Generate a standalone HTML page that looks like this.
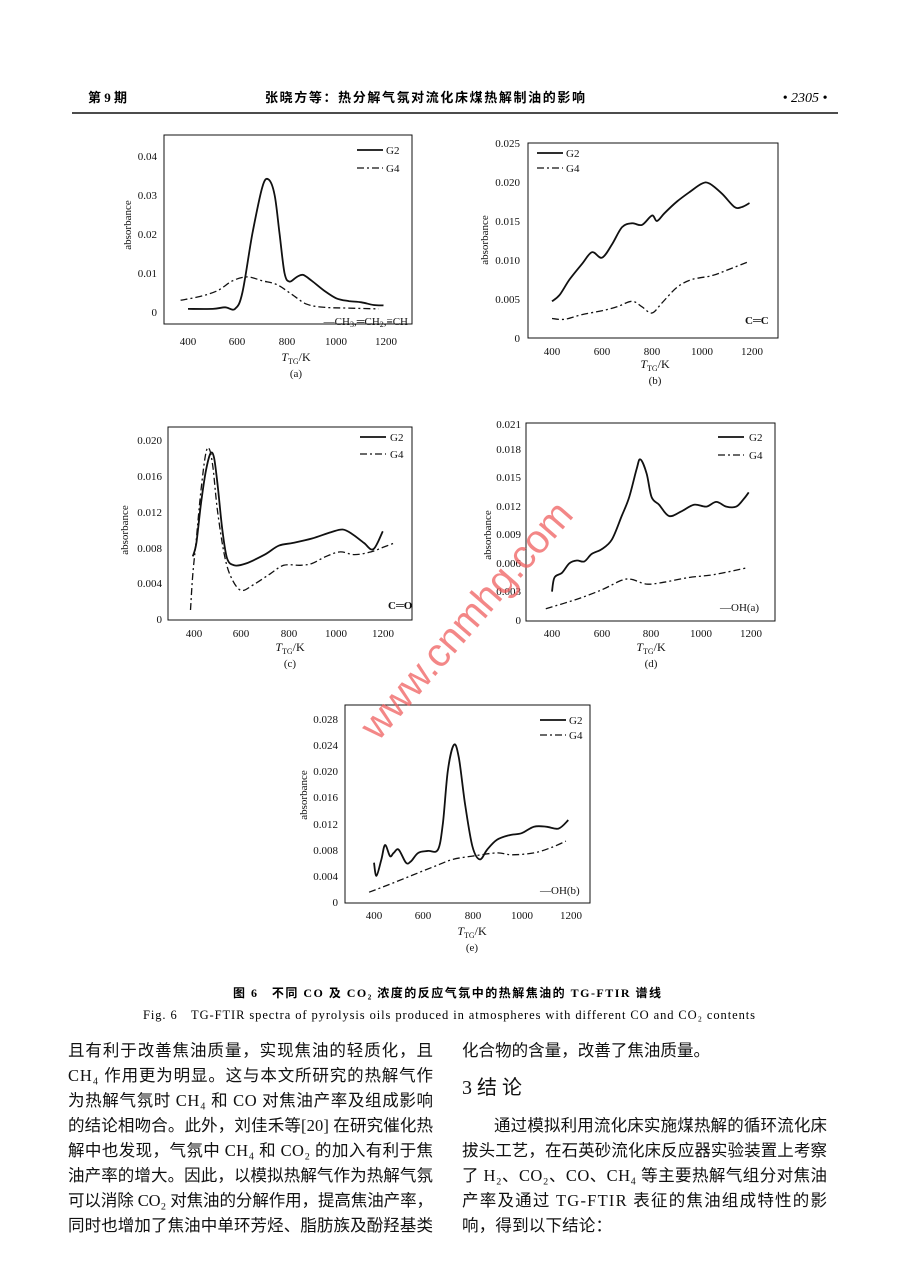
<!DOCTYPE html>
<html><head><meta charset="utf-8"><style>
html,body{margin:0;padding:0;background:#fff;}
svg{display:block;font-family:"Liberation Serif","Noto Serif CJK SC",serif;}
.t{font-size:11px;fill:#111;}
.cn{font-family:"Liberation Serif","Noto Sans CJK SC",sans-serif;}
</style></head><body>
<svg id="s" width="904" height="1262" viewBox="0 0 904 1262" xmlns="http://www.w3.org/2000/svg">
<rect width="904" height="1262" fill="#fff"/>
<text x="88" y="102" class="cn" font-size="13" font-weight="bold">第 9 期</text>
<text x="265" y="102" class="cn" font-size="13" font-weight="bold" textLength="320">张晓方等：热分解气氛对流化床煤热解制油的影响</text>
<text x="805" y="102" font-size="14" font-style="italic" text-anchor="middle">• 2305 •</text>
<line x1="72" y1="113" x2="838" y2="113" stroke="#111" stroke-width="1.5"/>

<g fill="none" stroke="#111" stroke-width="1">
<rect x="164" y="135" width="248" height="189"/>
<rect x="528" y="143" width="250" height="195"/>
<rect x="168" y="427" width="244" height="193"/>
<rect x="526" y="423" width="249" height="198"/>
<rect x="345" y="705" width="245" height="198"/>
</g>
<g id="curves"></g>

<g class="t" text-anchor="end">
<text x="157" y="160">0.04</text><text x="157" y="199">0.03</text><text x="157" y="238">0.02</text><text x="157" y="277">0.01</text><text x="157" y="316">0</text>
</g>
<g class="t" text-anchor="middle">
<text x="188" y="345">400</text><text x="237" y="345">600</text><text x="287" y="345">800</text><text x="336" y="345">1000</text><text x="386" y="345">1200</text>
<text x="296" y="361" font-size="12"><tspan font-style="italic">T</tspan><tspan font-size="8" dy="3">TG</tspan><tspan dy="-3">/K</tspan></text>
<text x="296" y="377">(a)</text>
</g>
<text class="t" transform="translate(131,225) rotate(-90)" text-anchor="middle">absorbance</text>
<text class="t" x="386" y="154">G2</text><text class="t" x="386" y="172">G4</text>
<text class="t" x="408" y="325" text-anchor="end">—CH<tspan font-size="8" dy="2">3</tspan><tspan dy="-2">,═CH</tspan><tspan font-size="8" dy="2">2</tspan><tspan dy="-2">,≡CH</tspan></text>

<g class="t" text-anchor="end">
<text x="520" y="147">0.025</text><text x="520" y="186">0.020</text><text x="520" y="225">0.015</text><text x="520" y="264">0.010</text><text x="520" y="303">0.005</text><text x="520" y="342">0</text>
</g>
<g class="t" text-anchor="middle">
<text x="552" y="355">400</text><text x="602" y="355">600</text><text x="652" y="355">800</text><text x="702" y="355">1000</text><text x="752" y="355">1200</text>
<text x="655" y="368" font-size="12"><tspan font-style="italic">T</tspan><tspan font-size="8" dy="3">TG</tspan><tspan dy="-3">/K</tspan></text>
<text x="655" y="384">(b)</text>
</g>
<text class="t" transform="translate(488,240) rotate(-90)" text-anchor="middle">absorbance</text>
<text class="t" x="566" y="157">G2</text><text class="t" x="566" y="172">G4</text>
<text class="t" x="745" y="324" font-weight="bold">C═C</text>

<g class="t" text-anchor="end">
<text x="162" y="444">0.020</text><text x="162" y="480">0.016</text><text x="162" y="516">0.012</text><text x="162" y="552">0.008</text><text x="162" y="587">0.004</text><text x="162" y="623">0</text>
</g>
<g class="t" text-anchor="middle">
<text x="194" y="637">400</text><text x="241" y="637">600</text><text x="289" y="637">800</text><text x="336" y="637">1000</text><text x="383" y="637">1200</text>
<text x="290" y="651" font-size="12"><tspan font-style="italic">T</tspan><tspan font-size="8" dy="3">TG</tspan><tspan dy="-3">/K</tspan></text>
<text x="290" y="667">(c)</text>
</g>
<text class="t" transform="translate(128,530) rotate(-90)" text-anchor="middle">absorbance</text>
<text class="t" x="390" y="441">G2</text><text class="t" x="390" y="458">G4</text>
<text class="t" x="388" y="609" font-weight="bold">C═O</text>

<g class="t" text-anchor="end">
<text x="521" y="428">0.021</text><text x="521" y="453">0.018</text><text x="521" y="481">0.015</text><text x="521" y="510">0.012</text><text x="521" y="538">0.009</text><text x="521" y="567">0.006</text><text x="521" y="595">0.003</text><text x="521" y="624">0</text>
</g>
<g class="t" text-anchor="middle">
<text x="552" y="637">400</text><text x="602" y="637">600</text><text x="651" y="637">800</text><text x="701" y="637">1000</text><text x="751" y="637">1200</text>
<text x="651" y="651" font-size="12"><tspan font-style="italic">T</tspan><tspan font-size="8" dy="3">TG</tspan><tspan dy="-3">/K</tspan></text>
<text x="651" y="667">(d)</text>
</g>
<text class="t" transform="translate(491,535) rotate(-90)" text-anchor="middle">absorbance</text>
<text class="t" x="749" y="441">G2</text><text class="t" x="749" y="459">G4</text>
<text class="t" x="720" y="611">—OH(a)</text>

<g class="t" text-anchor="end">
<text x="338" y="723">0.028</text><text x="338" y="749">0.024</text><text x="338" y="775">0.020</text><text x="338" y="801">0.016</text><text x="338" y="828">0.012</text><text x="338" y="854">0.008</text><text x="338" y="880">0.004</text><text x="338" y="906">0</text>
</g>
<g class="t" text-anchor="middle">
<text x="374" y="919">400</text><text x="423" y="919">600</text><text x="473" y="919">800</text><text x="522" y="919">1000</text><text x="571" y="919">1200</text>
<text x="472" y="935" font-size="12"><tspan font-style="italic">T</tspan><tspan font-size="8" dy="3">TG</tspan><tspan dy="-3">/K</tspan></text>
<text x="472" y="951">(e)</text>
</g>
<text class="t" transform="translate(307,795) rotate(-90)" text-anchor="middle">absorbance</text>
<text class="t" x="569" y="724">G2</text><text class="t" x="569" y="739">G4</text>
<text class="t" x="540" y="894">—OH(b)</text>

<text x="0" y="0" transform="translate(378,742) rotate(-49)" font-family="Liberation Sans,sans-serif" font-size="40" textLength="300" fill="#f06060" opacity="0.75">www.cnmhg.com</text>

<text x="233" y="997" class="cn" font-size="12" font-weight="bold" textLength="428">图 6　不同 CO 及 CO₂ 浓度的反应气氛中的热解焦油的 TG-FTIR 谱线</text>
<text x="143" y="1019" font-size="12.5" textLength="612">Fig. 6　TG-FTIR spectra of pyrolysis oils produced in atmospheres with different CO and CO₂ contents</text>

<g class="cn" font-size="16.5" fill="#111">
<text x="68" y="1056" textLength="365">且有利于改善焦油质量，实现焦油的轻质化，且</text>
<text x="68" y="1081" textLength="365">CH₄ 作用更为明显。这与本文所研究的热解气作</text>
<text x="68" y="1106" textLength="365">为热解气氛时 CH₄ 和 CO 对焦油产率及组成影响</text>
<text x="68" y="1131" textLength="365">的结论相吻合。此外，刘佳禾等[20] 在研究催化热</text>
<text x="68" y="1156" textLength="365">解中也发现，气氛中 CH₄ 和 CO₂ 的加入有利于焦</text>
<text x="68" y="1181" textLength="365">油产率的增大。因此，以模拟热解气作为热解气氛</text>
<text x="68" y="1206" textLength="365">可以消除 CO₂ 对焦油的分解作用，提高焦油产率，</text>
<text x="68" y="1231" textLength="365">同时也增加了焦油中单环芳烃、脂肪族及酚羟基类</text>
<text x="462" y="1056" textLength="248">化合物的含量，改善了焦油质量。</text>
<text x="462" y="1094" font-size="20" textLength="60">3　结　论</text>
<text x="494" y="1131" textLength="333">通过模拟利用流化床实施煤热解的循环流化床</text>
<text x="462" y="1156" textLength="365">拔头工艺，在石英砂流化床反应器实验装置上考察</text>
<text x="462" y="1181" textLength="365">了 H₂、CO₂、CO、CH₄ 等主要热解气组分对焦油</text>
<text x="462" y="1206" textLength="365">产率及通过 TG-FTIR 表征的焦油组成特性的影</text>
<text x="462" y="1231" textLength="150">响，得到以下结论：</text>
</g>
</svg>
<script>
var NS="http://www.w3.org/2000/svg",g=document.getElementById("curves");
function P(cx,kx,cy,ky,pts){var q=pts.map(function(p){return [cx+(p[0]-400)*kx,cy-p[1]*1000*ky]});
var d="M"+q[0][0].toFixed(1)+","+q[0][1].toFixed(1);
for(var i=0;i<q.length-1;i++){var p0=q[Math.max(i-1,0)],p1=q[i],p2=q[i+1],p3=q[Math.min(i+2,q.length-1)];
d+=" C"+(p1[0]+(p2[0]-p0[0])/6).toFixed(1)+","+(p1[1]+(p2[1]-p0[1])/6).toFixed(1)+" "+(p2[0]-(p3[0]-p1[0])/6).toFixed(1)+","+(p2[1]-(p3[1]-p1[1])/6).toFixed(1)+" "+p2[0].toFixed(1)+","+p2[1].toFixed(1);}
return d;}
function add(d,dash){var e=document.createElementNS(NS,"path");e.setAttribute("d",d);e.setAttribute("fill","none");e.setAttribute("stroke","#111");e.setAttribute("stroke-width",dash?"1.3":"1.8");e.setAttribute("stroke-linejoin","round");if(dash)e.setAttribute("stroke-dasharray","7 3 2 3");g.appendChild(e);}
function leg(x,y,dash){add("M"+x+","+y+" L"+(x+26)+","+y,dash);}
var C=[
[188,.2475,312,3.9,
[[400,.0008],[500,.0008],[550,.0012],[590,.0008],[620,.005],[660,.02],[700,.032],[725,.034],[750,.03],[770,.02],[790,.01],[810,.0078],[840,.009],[865,.0095],[900,.008],[950,.0055],[1000,.0035],[1050,.0028],[1100,.0025],[1150,.0018],[1190,.0017]],
[[370,.003],[450,.004],[520,.0055],[580,.008],[640,.009],[700,.008],[760,.007],[820,.0045],[880,.002],[950,.0012],[1050,.001],[1170,.0008]],357,150,168],
[552,.25,338,7.8,
[[400,.0047],[430,.0055],[470,.0075],[520,.0095],[560,.011],[600,.0103],[640,.012],[680,.0142],[720,.0147],[760,.0145],[800,.0157],[820,.015],[850,.016],[900,.0175],[950,.0187],[1000,.0198],[1030,.0198],[1080,.0185],[1130,.0168],[1160,.0168],[1190,.0173]],
[[400,.0025],[450,.0024],[520,.003],[600,.0035],[660,.004],[720,.0047],[760,.004],[800,.0032],[840,.0045],[900,.0065],[960,.0075],[1040,.008],[1100,.0087],[1180,.0097]],537,153,168],
[194,.236,619,8.95,
[[395,.007],[410,.0085],[430,.013],[450,.0165],[470,.0185],[485,.018],[500,.015],[520,.01],[540,.0068],[570,.006],[620,.0062],[700,.0072],[760,.0082],[820,.0085],[900,.009],[980,.0097],[1030,.01],[1070,.0095],[1120,.0085],[1160,.0078],[1200,.0098]],
[[385,.001],[395,.005],[410,.009],[430,.0145],[450,.0185],[465,.019],[480,.017],[500,.012],[530,.007],[560,.0045],[600,.0032],[650,.0038],[720,.005],[780,.006],[850,.006],[900,.0062],[960,.007],[1020,.0075],[1080,.0072],[1150,.0075],[1200,.008],[1250,.0085]],360,437,454],
[552,.249,620,9.45,
[[400,.003],[410,.0045],[440,.005],[470,.006],[500,.0063],[530,.0062],[560,.007],[600,.0075],[640,.0085],[680,.011],[710,.013],[740,.016],[755,.017],[780,.0155],[800,.013],[830,.0122],[870,.011],[920,.0115],[970,.0122],[1020,.012],[1060,.0125],[1100,.012],[1140,.012],[1170,.0128],[1190,.0135]],
[[375,.0012],[500,.0022],[600,.0032],[680,.0042],[720,.0043],[780,.0038],[850,.004],[950,.0045],[1050,.0048],[1180,.0055]],718,437,455],
[374,.246,902,6.55,
[[400,.006],[410,.004],[430,.0065],[445,.0087],[465,.007],[480,.0075],[500,.008],[530,.006],[550,.0062],[580,.0075],[620,.0078],[660,.008],[680,.012],[700,.02],[725,.024],[745,.022],[770,.015],[800,.0085],[830,.0065],[860,.008],[900,.0095],[950,.0102],[1000,.0105],[1050,.0115],[1100,.0115],[1150,.0112],[1190,.0125]],
[[380,.0015],[450,.0025],[550,.004],[650,.0055],[720,.0065],[800,.007],[900,.0075],[960,.0072],[1050,.0075],[1120,.0083],[1180,.0093]],540,720,735]
];
C.forEach(function(c){add(P(c[0],c[1],c[2],c[3],c[4]),false);add(P(c[0],c[1],c[2],c[3],c[5]),true);leg(c[6],c[7],false);leg(c[6],c[8],true);});
</script>
</body></html>
